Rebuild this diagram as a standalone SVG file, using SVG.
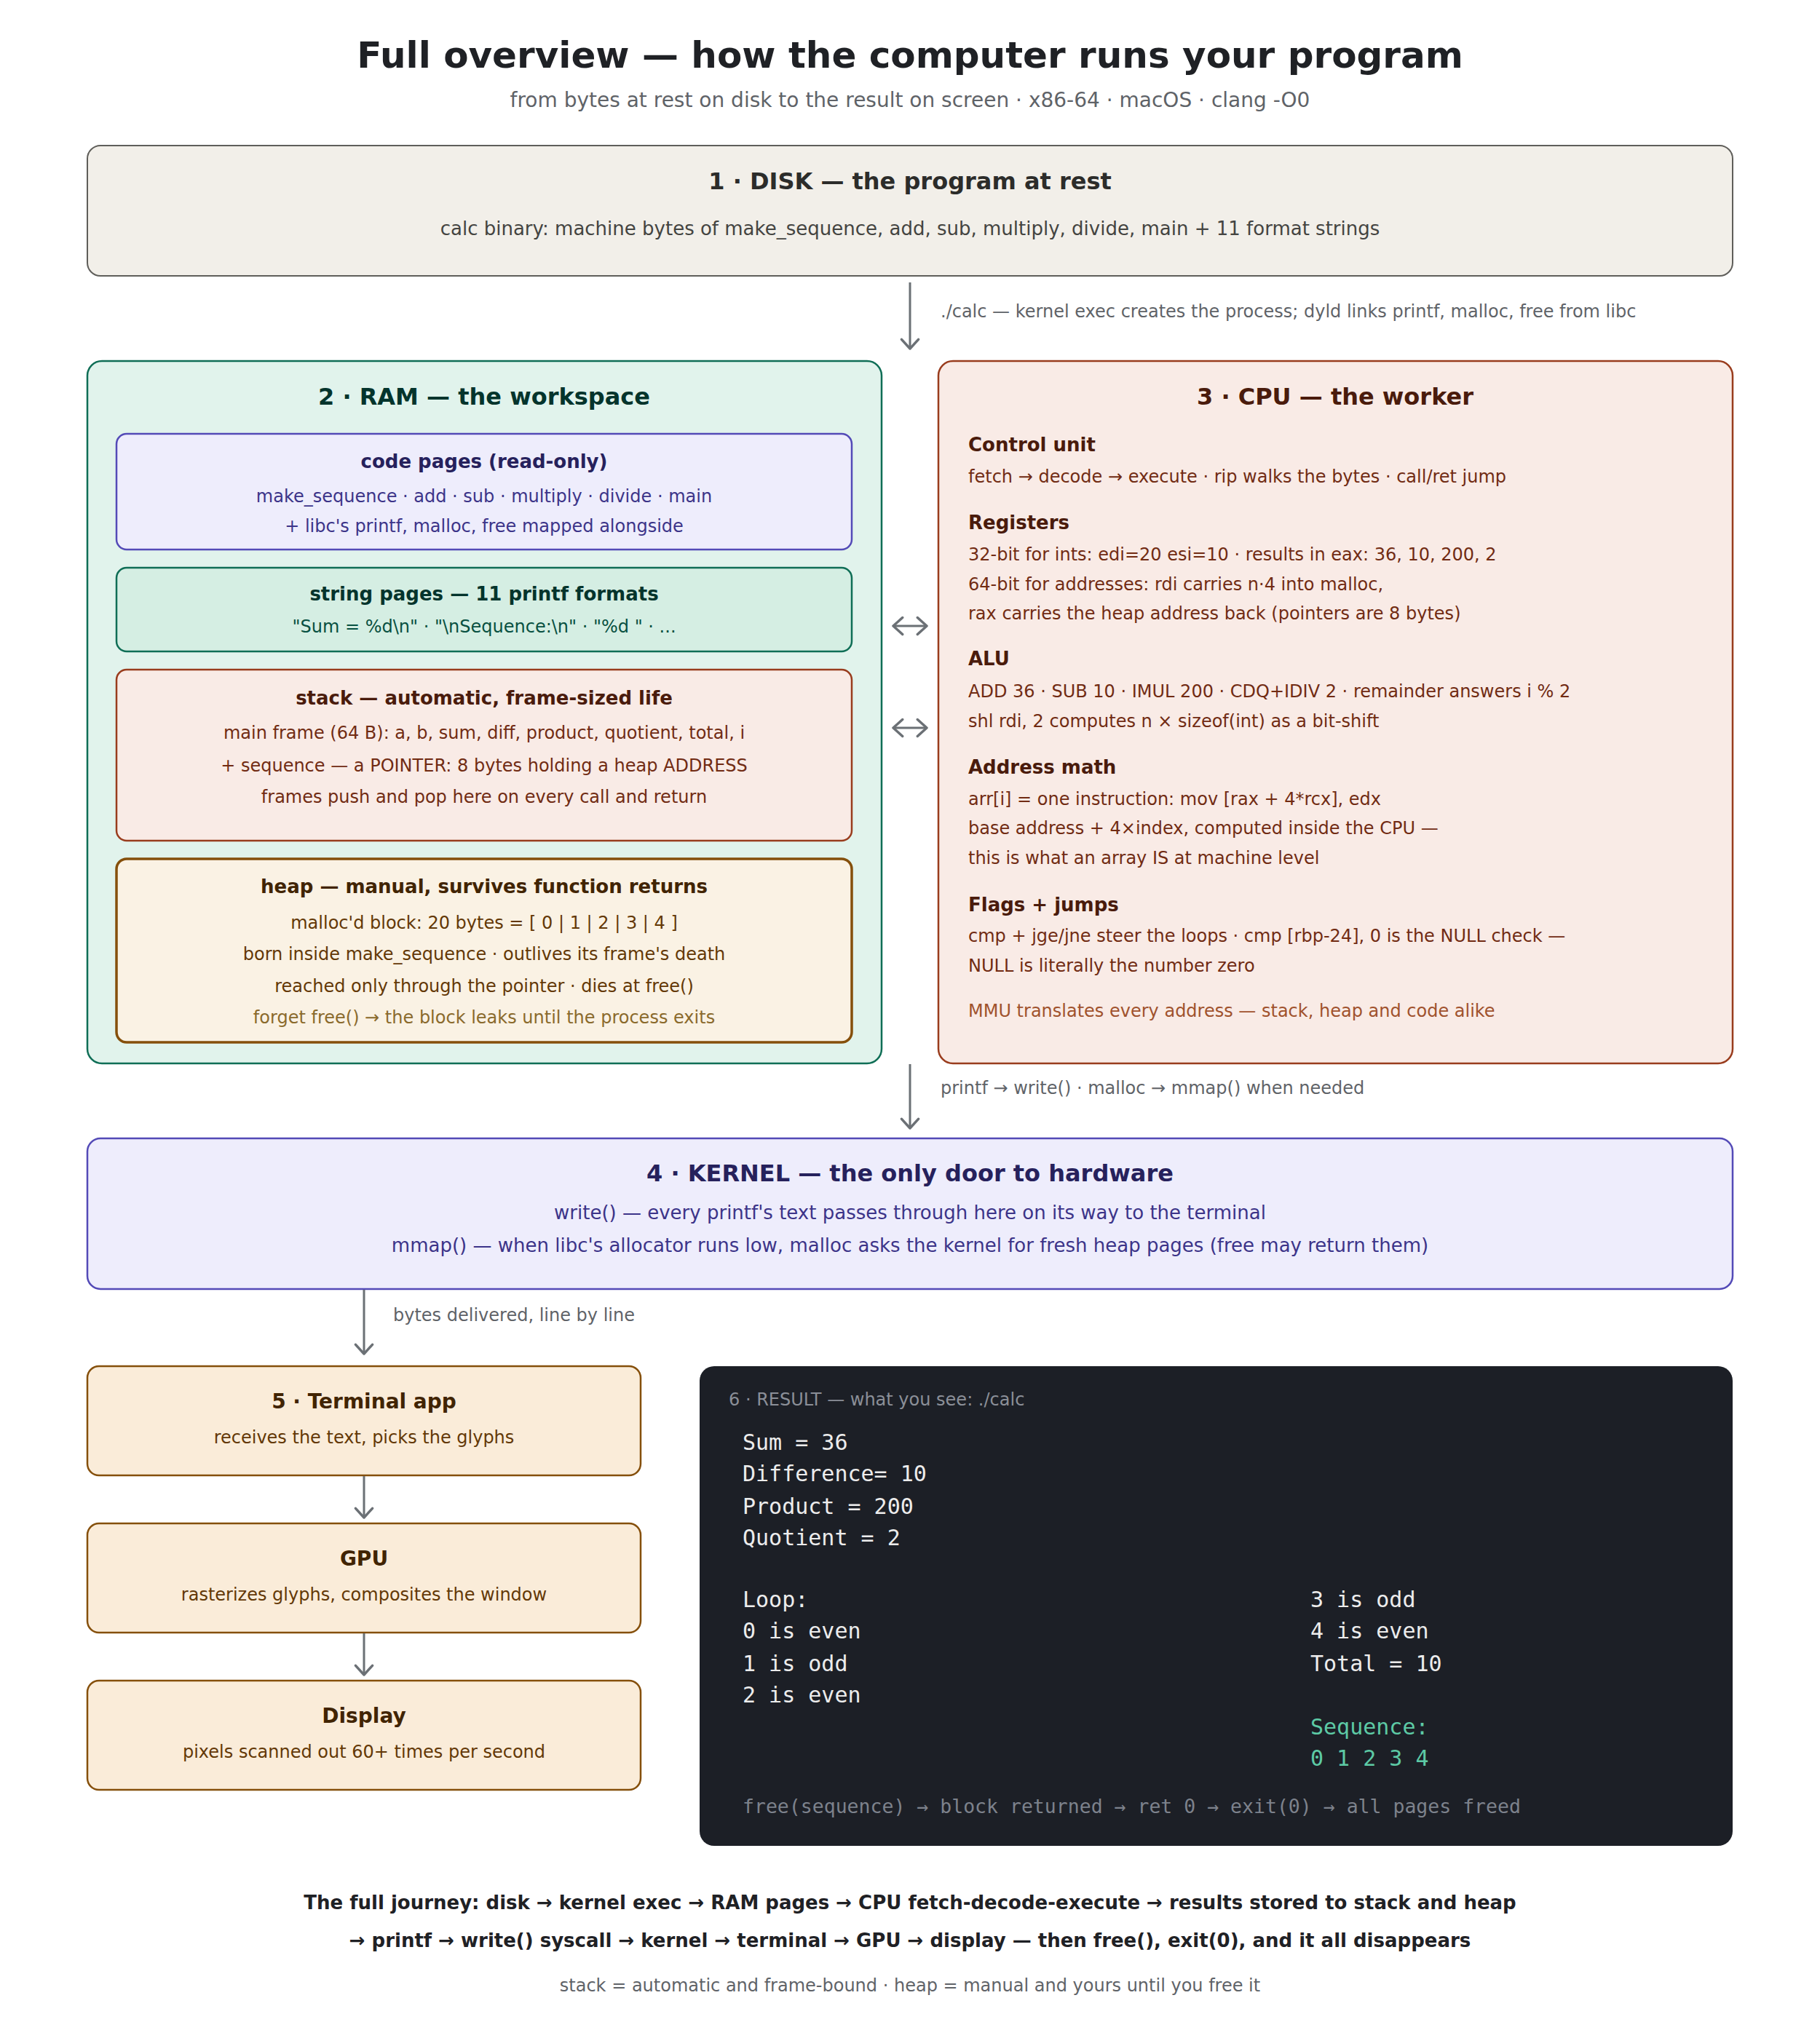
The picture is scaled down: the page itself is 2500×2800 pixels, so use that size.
<svg xmlns="http://www.w3.org/2000/svg" width="2500" height="2800" viewBox="0 0 2500 2800">
<defs>
<marker id="ah" markerUnits="userSpaceOnUse" markerWidth="30" markerHeight="30" refX="13" refY="12" orient="auto-start-reverse" viewBox="0 0 26 24">
<polyline points="2,2 13,12 2,22" fill="none" stroke="#6b7075" stroke-width="3" stroke-linecap="round" stroke-linejoin="round"/>
</marker>
<style>
text{font-family:"DejaVu Sans","Noto Sans",sans-serif;}
.mono{font-family:"DejaVu Sans Mono","Liberation Mono",monospace;}
.c{text-anchor:middle;}
.h1{font-size:50px;font-weight:bold;fill:#1f2125;}
.sub{font-size:28px;fill:#5f6368;}
.big{font-size:32px;font-weight:bold;}
.hd{font-size:26px;font-weight:bold;}
.bd{font-size:24px;}
.lbl{font-size:24px;fill:#5f6368;}
.conn{stroke:#6b7075;stroke-width:3;fill:none;marker-end:url(#ah);}
.bi{stroke:#6b7075;stroke-width:3;fill:none;marker-end:url(#ah);marker-start:url(#ah);}
.term{font-size:30px;fill:#ececec;}
</style>
</defs>

<text class="h1 c" x="1250" y="93">Full overview — how the computer runs your program</text>
<text class="sub c" x="1250" y="147">from bytes at rest on disk to the result on screen · x86-64 · macOS · clang -O0</text>

<g id="disk">
<rect x="120" y="200" width="2260" height="179" rx="18" fill="#f2efe9" stroke="#5f5e5a" stroke-width="2"/>
<text class="big c" x="1250" y="260" fill="#2c2c2a">1 · DISK — the program at rest</text>
<text class="c" x="1250" y="323" font-size="26" fill="#444441">calc binary: machine bytes of make_sequence, add, sub, multiply, divide, main + 11 format strings</text>
</g>

<g id="ram">
<rect x="120" y="496" width="1091" height="965" rx="20" fill="#e1f3ec" stroke="#0f6e56" stroke-width="2.5"/>
<text class="big c" x="665" y="556" fill="#04342c">2 · RAM — the workspace</text>
</g>

<g id="code-pages">
<rect x="160" y="596" width="1010" height="159" rx="14" fill="#eeedfc" stroke="#534ab7" stroke-width="2.5"/>
<text class="hd c" x="665" y="643" fill="#26215c">code pages (read-only)</text>
<text class="bd c" x="665" y="690" fill="#3c3489">make_sequence · add · sub · multiply · divide · main</text>
<text class="bd c" x="665" y="731" fill="#3c3489">+ libc's printf, malloc, free mapped alongside</text>
</g>

<g id="string-pages">
<rect x="160" y="780" width="1010" height="115" rx="14" fill="#d5eee3" stroke="#0f6e56" stroke-width="2.5"/>
<text class="hd c" x="665" y="825" fill="#04342c">string pages — 11 printf formats</text>
<text class="bd c" x="665" y="869" fill="#085041">"Sum = %d\n" · "\nSequence:\n" · "%d " · ...</text>
</g>

<g id="stack">
<rect x="160" y="920" width="1010" height="235" rx="14" fill="#f9ebe6" stroke="#993c1d" stroke-width="2.5"/>
<text class="hd c" x="665" y="968" fill="#4a1b0c">stack — automatic, frame-sized life</text>
<text class="bd c" x="665" y="1015" fill="#712b13">main frame (64 B): a, b, sum, diff, product, quotient, total, i</text>
<text class="bd c" x="665" y="1060" fill="#712b13">+ sequence — a POINTER: 8 bytes holding a heap ADDRESS</text>
<text class="bd c" x="665" y="1103" fill="#712b13">frames push and pop here on every call and return</text>
</g>

<g id="heap">
<rect x="160" y="1180" width="1010" height="252" rx="14" fill="#faf2e4" stroke="#854f0b" stroke-width="3.5"/>
<text class="hd c" x="665" y="1227" fill="#412402">heap — manual, survives function returns</text>
<text class="bd c" x="665" y="1276" fill="#633806">malloc'd block: 20 bytes = [ 0 | 1 | 2 | 3 | 4 ]</text>
<text class="bd c" x="665" y="1319" fill="#633806">born inside make_sequence · outlives its frame's death</text>
<text class="bd c" x="665" y="1363" fill="#633806">reached only through the pointer · dies at free()</text>
<text class="bd c" x="665" y="1406" fill="#8a6a2c">forget free() → the block leaks until the process exits</text>
</g>

<g id="cpu">
<rect x="1289" y="496" width="1091" height="965" rx="20" fill="#f9ebe6" stroke="#993c1d" stroke-width="2.5"/>
<text class="big c" x="1834" y="556" fill="#4a1b0c">3 · CPU — the worker</text>
<text class="hd" x="1330" y="620" fill="#4a1b0c">Control unit</text>
<text class="bd" x="1330" y="663" fill="#712b13">fetch → decode → execute · rip walks the bytes · call/ret jump</text>
<text class="hd" x="1330" y="727" fill="#4a1b0c">Registers</text>
<text class="bd" x="1330" y="770" fill="#712b13">32-bit for ints: edi=20 esi=10 · results in eax: 36, 10, 200, 2</text>
<text class="bd" x="1330" y="811" fill="#712b13">64-bit for addresses: rdi carries n·4 into malloc,</text>
<text class="bd" x="1330" y="851" fill="#712b13">rax carries the heap address back (pointers are 8 bytes)</text>
<text class="hd" x="1330" y="914" fill="#4a1b0c">ALU</text>
<text class="bd" x="1330" y="958" fill="#712b13">ADD 36 · SUB 10 · IMUL 200 · CDQ+IDIV 2 · remainder answers i % 2</text>
<text class="bd" x="1330" y="999" fill="#712b13">shl rdi, 2 computes n × sizeof(int) as a bit-shift</text>
<text class="hd" x="1330" y="1063" fill="#4a1b0c">Address math</text>
<text class="bd" x="1330" y="1106" fill="#712b13">arr[i] = one instruction: mov [rax + 4*rcx], edx</text>
<text class="bd" x="1330" y="1146" fill="#712b13">base address + 4×index, computed inside the CPU —</text>
<text class="bd" x="1330" y="1187" fill="#712b13">this is what an array IS at machine level</text>
<text class="hd" x="1330" y="1252" fill="#4a1b0c">Flags + jumps</text>
<text class="bd" x="1330" y="1294" fill="#712b13">cmp + jge/jne steer the loops · cmp [rbp-24], 0 is the NULL check —</text>
<text class="bd" x="1330" y="1335" fill="#712b13">NULL is literally the number zero</text>
<text class="bd" x="1330" y="1397" fill="#a0522d">MMU translates every address — stack, heap and code alike</text>
</g>

<g id="kernel">
<rect x="120" y="1564" width="2260" height="207" rx="18" fill="#eeedfc" stroke="#534ab7" stroke-width="2.5"/>
<text class="big c" x="1250" y="1623" fill="#26215c">4 · KERNEL — the only door to hardware</text>
<text class="c" x="1250" y="1675" font-size="26" fill="#3c3489">write() — every printf's text passes through here on its way to the terminal</text>
<text class="c" x="1250" y="1720" font-size="26" fill="#3c3489">mmap() — when libc's allocator runs low, malloc asks the kernel for fresh heap pages (free may return them)</text>
</g>

<g id="terminal">
<rect x="120" y="1877" width="760" height="150" rx="16" fill="#faecd9" stroke="#854f0b" stroke-width="2.5"/>
<text class="c" x="500" y="1935" font-size="28" font-weight="bold" fill="#412402">5 · Terminal app</text>
<text class="bd c" x="500" y="1983" fill="#633806">receives the text, picks the glyphs</text>
</g>

<g id="gpu">
<rect x="120" y="2093" width="760" height="150" rx="16" fill="#faecd9" stroke="#854f0b" stroke-width="2.5"/>
<text class="c" x="500" y="2151" font-size="28" font-weight="bold" fill="#412402">GPU</text>
<text class="bd c" x="500" y="2199" fill="#633806">rasterizes glyphs, composites the window</text>
</g>

<g id="display">
<rect x="120" y="2309" width="760" height="150" rx="16" fill="#faecd9" stroke="#854f0b" stroke-width="2.5"/>
<text class="c" x="500" y="2367" font-size="28" font-weight="bold" fill="#412402">Display</text>
<text class="bd c" x="500" y="2415" fill="#633806">pixels scanned out 60+ times per second</text>
</g>

<g id="result">
<rect x="961" y="1877" width="1419" height="659" rx="20" fill="#1c1f26"/>
<text x="1001" y="1931" font-size="24" fill="#8b8f98">6 · RESULT — what you see: ./calc</text>
<text class="mono term" x="1020" y="1992">Sum = 36</text>
<text class="mono term" x="1020" y="2035">Difference= 10</text>
<text class="mono term" x="1020" y="2080">Product = 200</text>
<text class="mono term" x="1020" y="2123">Quotient = 2</text>
<text class="mono term" x="1020" y="2208">Loop:</text>
<text class="mono term" x="1020" y="2251">0 is even</text>
<text class="mono term" x="1020" y="2296">1 is odd</text>
<text class="mono term" x="1020" y="2339">2 is even</text>
<text class="mono term" x="1800" y="2208">3 is odd</text>
<text class="mono term" x="1800" y="2251">4 is even</text>
<text class="mono term" x="1800" y="2296">Total = 10</text>
<text class="mono" x="1800" y="2383" font-size="30" fill="#5dcaa5">Sequence:</text>
<text class="mono" x="1800" y="2426" font-size="30" fill="#5dcaa5">0 1 2 3 4</text>
<text class="mono" x="1020" y="2491" font-size="26.5" fill="#7d828c">free(sequence) → block returned → ret 0 → exit(0) → all pages freed</text>
</g>

<g id="connectors">
<line class="conn" x1="1250" y1="388" x2="1250" y2="479"/>
<text class="lbl" x="1292" y="436">./calc — kernel exec creates the process; dyld links printf, malloc, free from libc</text>
<line class="bi" x1="1227" y1="860" x2="1273" y2="860"/>
<line class="bi" x1="1227" y1="1000" x2="1273" y2="1000"/>
<line class="conn" x1="1250" y1="1462" x2="1250" y2="1550"/>
<text class="lbl" x="1292" y="1503">printf → write() · malloc → mmap() when needed</text>
<line class="conn" x1="500" y1="1772" x2="500" y2="1860"/>
<text class="lbl" x="540" y="1815">bytes delivered, line by line</text>
<line class="conn" x1="500" y1="2028" x2="500" y2="2085"/>
<line class="conn" x1="500" y1="2244" x2="500" y2="2301"/>
</g>

<text class="c" x="1250" y="2623" font-size="26" font-weight="bold" fill="#1f2125">The full journey: disk → kernel exec → RAM pages → CPU fetch-decode-execute → results stored to stack and heap</text>
<text class="c" x="1250" y="2675" font-size="26" font-weight="bold" fill="#1f2125">→ printf → write() syscall → kernel → terminal → GPU → display — then free(), exit(0), and it all disappears</text>
<text class="c" x="1250" y="2736" font-size="24" fill="#5f6368">stack = automatic and frame-bound · heap = manual and yours until you free it</text>
</svg>
